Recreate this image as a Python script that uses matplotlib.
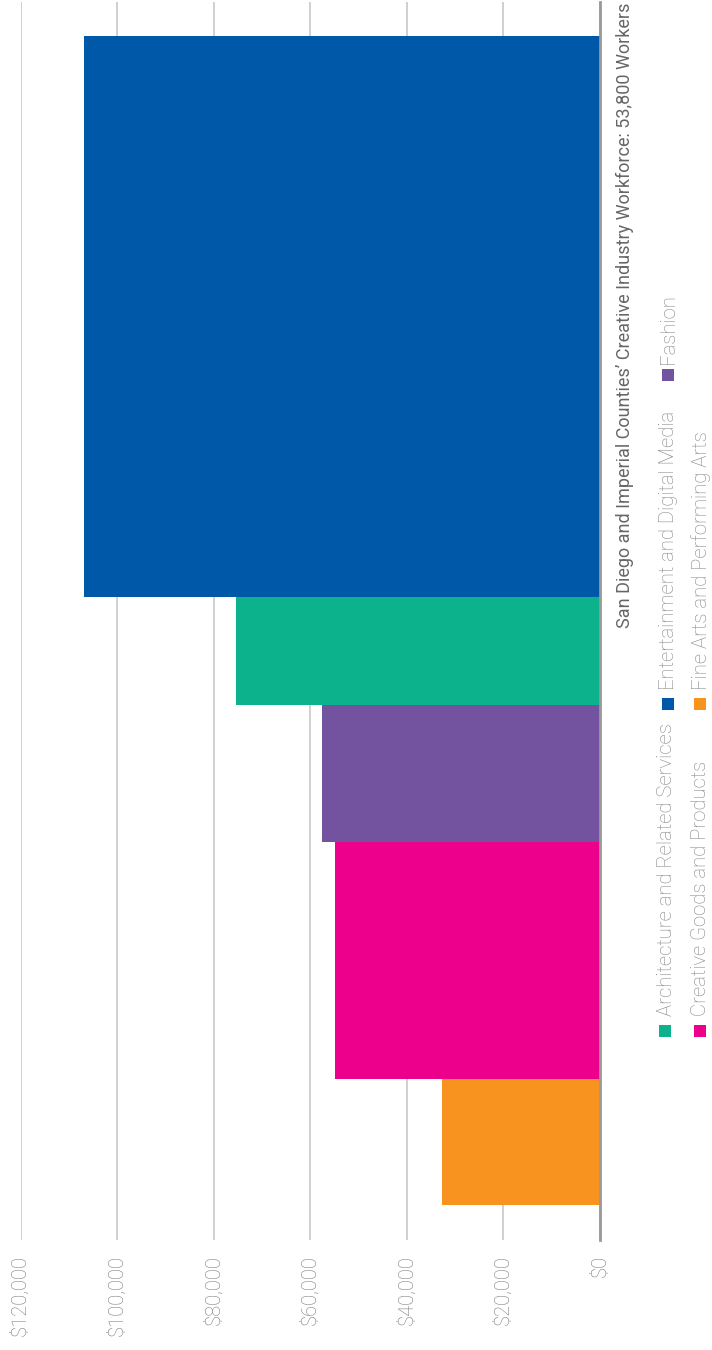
import matplotlib
matplotlib.use("Agg")
import matplotlib.pyplot as plt
from matplotlib.patches import Rectangle

# ---------------------------------------------------------------------
# Data: creative industry segments (workers = bar thickness, wage = bar length)
# ---------------------------------------------------------------------
categories = [
    "Entertainment and Digital Media",
    "Architecture and Related Services",
    "Fashion",
    "Creative Goods and Products",
    "Fine Arts and Performing Arts",
]
workers = [25800, 5000, 6300, 10900, 5800]
avg_wage = [106800, 75300, 57500, 54800, 32700]
colors = ["#0058a8", "#0cb28c", "#7352a0", "#ec008c", "#f7931e"]

wage_ticks = [0, 20000, 40000, 60000, 80000, 100000, 120000]
wage_labels = ["$0", "$20,000", "$40,000", "$60,000", "$80,000", "$100,000", "$120,000"]
title = "San Diego and Imperial Counties\u2019 Creative Industry Workforce: 53,800 Workers"

FONT = ["Roboto", "DejaVu Sans"]
W, H = 712, 1350


def fx(px):
    return px / W


def fy(py):
    return 1 - py / H


fig = plt.figure(figsize=(W / 100, H / 100), dpi=100)
ax = fig.add_axes([fx(20.5), fy(1240), fx(600) - fx(20.5), fy(2) - fy(1240)])

# bars stacked along the (inverted) y axis, each as thick as its workforce
starts = []
acc = 0
for w in workers:
    starts.append(acc)
    acc += w
centers = [s + w / 2 for s, w in zip(starts, workers)]
ax.barh(centers, avg_wage, height=workers, left=0, color=colors, zorder=3, linewidth=0)

ax.set_xlim(120000, 0)
ax.set_ylim(55400, -1560)

ax.set_xticks(wage_ticks)
ax.set_xticklabels(wage_labels, rotation=90, fontsize=14.5, color="#7a7a7a",
                   family=FONT, fontweight="light")
ax.tick_params(axis="x", length=0, pad=11)
ax.set_yticks([])
ax.grid(axis="x", color="#d0d0d0", linewidth=1.4, zorder=0)
for s in ["top", "bottom", "left"]:
    ax.spines[s].set_visible(False)
ax.spines["right"].set_color("#999999")
ax.spines["right"].set_linewidth(2)
ax.spines["right"].set_zorder(4)

fig.text(fx(625), fy(3), title, rotation=90, ha="center", va="top",
         fontsize=13, color="#666666", family=FONT)

# legend drawn by hand, rotated like the rest of the chart
legend_items = [
    (1, 665, 1031, 1016),
    (0, 668, 704, 690),
    (2, 668, 375, 364),
    (3, 700, 1031, 1016),
    (4, 700, 704, 690),
]
for idx, x, sq_y, txt_y in legend_items:
    fig.add_artist(Rectangle((fx(x - 6), fy(sq_y + 6)), 12 / W, 12 / H,
                             transform=fig.transFigure, color=colors[idx], linewidth=0))
    fig.text(fx(x + 1), fy(txt_y), categories[idx], rotation=90, ha="center", va="bottom",
             fontsize=14.6, color="#858585", family=FONT, fontweight="light")

fig.savefig("out.png", dpi=100)
